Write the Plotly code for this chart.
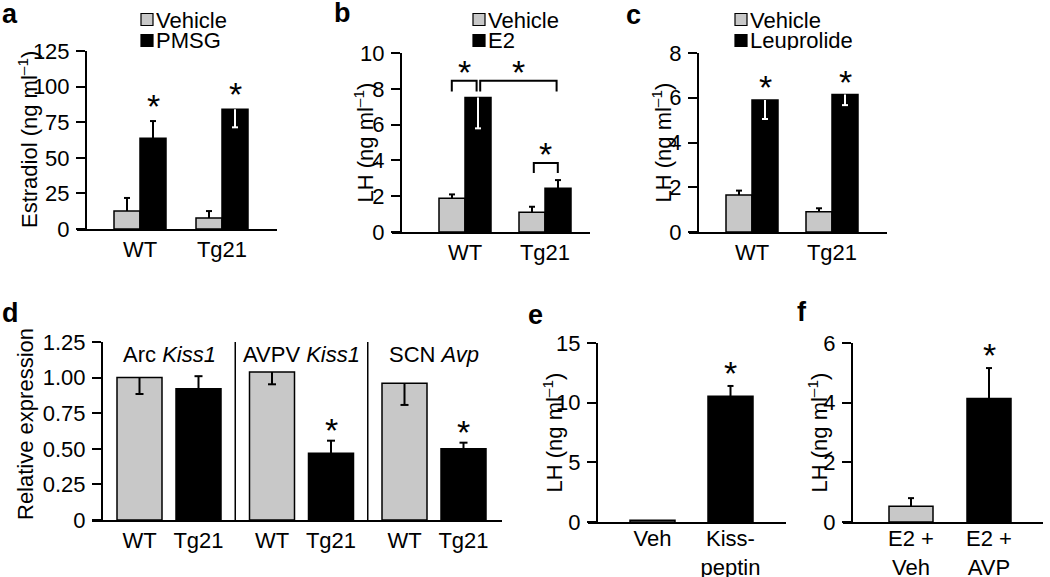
import plotly.graph_objects as go

W, H = 1050, 577
FONT = "Liberation Sans, Arial, Helvetica, sans-serif"
GREY = "#c8c8c8"
BLACK = "#000000"
FS = 22

# ---------------- data ----------------
# a
a_groups = ["WT", "Tg21"]
a_vehicle = [12.6, 7.7]
a_vehicle_err = [9.2, 4.9]
a_vehicle_dir = ["up", "up"]
a_pmsg = [63.7, 84.1]
a_pmsg_err = [12.1, 12.7]
a_pmsg_dir = ["up", "down"]
a_pmsg_star = [True, True]

# b
b_groups = ["WT", "Tg21"]
b_vehicle = [1.88, 1.10]
b_vehicle_err = [0.22, 0.31]
b_vehicle_dir = ["up", "up"]
b_e2 = [7.52, 2.44]
b_e2_err = [1.73, 0.46]
b_e2_dir = ["down", "up"]
# significance brackets: left x, right x (group units), top, leg bottom
b_brackets_x0 = [-0.165, 0.19, 0.86]
b_brackets_x1 = [0.145, 1.145, 1.16]
b_brackets_top = [8.45, 8.45, 3.85]
b_brackets_leg = [7.85, 7.85, 3.3]

# c
c_groups = ["WT", "Tg21"]
c_vehicle = [1.65, 0.91]
c_vehicle_err = [0.2, 0.15]
c_vehicle_dir = ["up", "up"]
c_leup = [5.9, 6.14]
c_leup_err = [0.85, 0.47]
c_leup_dir = ["down", "down"]
c_leup_star = [True, True]

# d
d_regions = ["Arc <i>Kiss1</i>", "AVPV <i>Kiss1</i>", "SCN <i>Avp</i>"]
d_wt = [1.00, 1.04, 0.96]
d_wt_err = [0.115, 0.087, 0.152]
d_wt_dir = ["down", "down", "down"]
d_tg = [0.922, 0.468, 0.50]
d_tg_err = [0.088, 0.089, 0.043]
d_tg_dir = ["up", "up", "up"]
d_tg_star = [False, True, True]

# e
e_labels = ["Veh", "Kiss-<br>peptin"]
e_vals = [0.15, 10.53]
e_err = [0.0, 0.87]
e_colors = [GREY, BLACK]
e_star = [False, True]

# f
f_labels = ["E2 +<br>Veh", "E2 +<br>AVP"]
f_vals = [0.53, 4.14]
f_err = [0.27, 1.02]
f_colors = [GREY, BLACK]
f_star = [False, True]

# ---------------- layout geometry (pixels) ----------------
def fx(px):
    return px / W


def fy(py):
    return 1 - py / H


panels = {
    "a": dict(n=1, xdom=(77, 277), yax=86, ydom=(51, 229), c0=140, unit=82,
              yr=(0, 125), ytv=[0, 25, 50, 75, 100, 125], ytt=["0", "25", "50", "75", "100", "125"],
              title="Estradiol (ng ml<sup>–1</sup>)", tx=28, xso=0),
    "b": dict(n=2, xdom=(392, 590), yax=401, ydom=(53, 232), c0=465, unit=80,
              yr=(0, 10), ytv=[0, 2, 4, 6, 8, 10], ytt=["0", "2", "4", "6", "8", "10"],
              title="LH (ng ml<sup>–1</sup>)", tx=363, xso=0),
    "c": dict(n=3, xdom=(689, 887), yax=698, ydom=(53, 232), c0=752, unit=80,
              yr=(0, 8), ytv=[0, 2, 4, 6, 8], ytt=["0", "2", "4", "6", "8"],
              title="LH (ng ml<sup>–1</sup>)", tx=661, xso=0),
    "d": dict(n=4, xdom=(92, 502), yax=102, ydom=(342, 520), c0=169, unit=132.5,
              yr=(0, 1.25), ytv=[0, 0.25, 0.5, 0.75, 1.0, 1.25],
              ytt=["0", "0.25", "0.50", "0.75", "1.00", "1.25"],
              title="Relative expression", tx=25, ty=424, xso=0),
    "e": dict(n=5, xdom=(588, 786), yax=597, ydom=(343, 522), c0=652.5, unit=78,
              yr=(0, 15), ytv=[0, 5, 10, 15], ytt=["0", "5", "10", "15"],
              title="LH (ng ml<sup>–1</sup>)", tx=552, xso=-4),
    "f": dict(n=6, xdom=(843, 1043), yax=852, ydom=(343, 522), c0=911, unit=78,
              yr=(0, 6), ytv=[0, 2, 4, 6], ytt=["0", "2", "4", "6"],
              title="LH (ng ml<sup>–1</sup>)", tx=817, xso=-4),
}

fig = go.Figure()
annotations = []
shapes = []


def axn(p):
    s = "" if p["n"] == 1 else str(p["n"])
    return "x" + s, "y" + s


def add_bars(p, xs, vals, colors, width_px):
    xa, ya = axn(p)
    fig.add_trace(go.Bar(
        x=xs, y=vals, width=width_px / p["unit"],
        marker=dict(color=colors, line=dict(color=BLACK, width=1.5)),
        xaxis=xa, yaxis=ya, showlegend=False, hoverinfo="skip"))


def add_errors(p, xs, vals, errs, dirs, down_colors, cap_px=3):
    xa, ya = axn(p)
    cw = cap_px / p["unit"]
    groups = {}
    for x, v, e, d, dc in zip(xs, vals, errs, dirs, down_colors):
        if e <= 0:
            continue
        end = v + e if d == "up" else v - e
        col = BLACK if d == "up" else dc
        gx, gy = groups.setdefault(col, ([], []))
        gx += [x, x, None, x - cw, x + cw, None]
        gy += [v, end, None, end, end, None]
    for col, (gx, gy) in groups.items():
        fig.add_trace(go.Scatter(x=gx, y=gy, mode="lines",
                                 line=dict(color=col, width=2),
                                 xaxis=xa, yaxis=ya, showlegend=False, hoverinfo="skip"))


def add_stars(p, xs, vals, errs, dirs, flags, shift=13):
    xa, ya = axn(p)
    for x, v, e, d, f in zip(xs, vals, errs, dirs, flags):
        if not f:
            continue
        top = v + e if d == "up" else v
        annotations.append(dict(x=x, y=top, xref=xa, yref=ya, text="*", showarrow=False,
                                yanchor="middle", yshift=shift,
                                font=dict(size=34, family=FONT, color=BLACK)))


def grouped(p, n_groups, bw_px):
    hw = bw_px / 2 / p["unit"]
    left = [g - hw for g in range(n_groups)]
    right = [g + hw for g in range(n_groups)]
    return left, right


# ---- a
p = panels["a"]
L, R = grouped(p, 2, 26)
add_bars(p, L, a_vehicle, [GREY] * 2, 26)
add_bars(p, R, a_pmsg, [BLACK] * 2, 26)
add_errors(p, L, a_vehicle, a_vehicle_err, a_vehicle_dir, [BLACK] * 2)
add_errors(p, R, a_pmsg, a_pmsg_err, a_pmsg_dir, ["white"] * 2)
add_stars(p, R, a_pmsg, a_pmsg_err, a_pmsg_dir, a_pmsg_star, shift=15)
p["xtv"], p["xtt"] = list(range(2)), a_groups

# ---- b
p = panels["b"]
L, R = grouped(p, 2, 26)
add_bars(p, L, b_vehicle, [GREY] * 2, 26)
add_bars(p, R, b_e2, [BLACK] * 2, 26)
add_errors(p, L, b_vehicle, b_vehicle_err, b_vehicle_dir, [BLACK] * 2)
add_errors(p, R, b_e2, b_e2_err, b_e2_dir, ["white"] * 2)
bx, by = [], []
for x0, x1, t, lg in zip(b_brackets_x0, b_brackets_x1, b_brackets_top, b_brackets_leg):
    bx += [x0, x0, x1, x1, None]
    by += [lg, t, t, lg, None]
    annotations.append(dict(x=(x0 + x1) / 2, y=t, xref="x2", yref="y2", text="*", showarrow=False,
                            yanchor="middle", yshift=9,
                            font=dict(size=34, family=FONT, color=BLACK)))
fig.add_trace(go.Scatter(x=bx, y=by, mode="lines", line=dict(color=BLACK, width=2),
                         xaxis="x2", yaxis="y2", showlegend=False, hoverinfo="skip"))
p["xtv"], p["xtt"] = list(range(2)), b_groups

# ---- c
p = panels["c"]
L, R = grouped(p, 2, 26)
add_bars(p, L, c_vehicle, [GREY] * 2, 26)
add_bars(p, R, c_leup, [BLACK] * 2, 26)
add_errors(p, L, c_vehicle, c_vehicle_err, c_vehicle_dir, [BLACK] * 2)
add_errors(p, R, c_leup, c_leup_err, c_leup_dir, ["white"] * 2)
add_stars(p, R, c_leup, c_leup_err, c_leup_dir, c_leup_star)
p["xtv"], p["xtt"] = list(range(2)), c_groups

# ---- d
p = panels["d"]
off = 29.5 / p["unit"]
L = [g - off for g in range(3)]
R = [g + off for g in range(3)]
add_bars(p, L, d_wt, [GREY] * 3, 45)
add_bars(p, R, d_tg, [BLACK] * 3, 45)
add_errors(p, L, d_wt, d_wt_err, d_wt_dir, [BLACK] * 3, cap_px=4)
add_errors(p, R, d_tg, d_tg_err, d_tg_dir, ["white"] * 3, cap_px=4)
add_stars(p, R, d_tg, d_tg_err, d_tg_dir, d_tg_star, shift=11)
dvx, dvy = [], []
for g in range(len(d_regions) - 1):
    dvx += [g + 0.5, g + 0.5, None]
    dvy += [0, p["yr"][1], None]
fig.add_trace(go.Scatter(x=dvx, y=dvy, mode="lines", line=dict(color=BLACK, width=1.5),
                         xaxis="x4", yaxis="y4", showlegend=False, hoverinfo="skip"))
for g, lab in enumerate(d_regions):
    annotations.append(dict(x=g, y=1.16, xref="x4", yref="y4", text=lab, showarrow=False,
                            font=dict(size=FS, family=FONT, color=BLACK)))
p["xtv"] = L + R
p["xtt"] = ["WT"] * 3 + ["Tg21"] * 3

# ---- e
p = panels["e"]
xs = list(range(2))
add_bars(p, xs, e_vals, e_colors, 45)
add_errors(p, xs, e_vals, e_err, ["up", "up"], [BLACK] * 2, cap_px=3)
add_stars(p, xs, e_vals, e_err, ["up", "up"], e_star)
p["xtv"], p["xtt"] = xs, e_labels

# ---- f
p = panels["f"]
xs = list(range(2))
add_bars(p, xs, f_vals, f_colors, 44)
add_errors(p, xs, f_vals, f_err, ["up", "up"], [BLACK] * 2, cap_px=3)
add_stars(p, xs, f_vals, f_err, ["up", "up"], f_star)
p["xtv"], p["xtt"] = xs, f_labels

# ---------------- axes ----------------
layout_axes = {}
for key, p in panels.items():
    s = "" if p["n"] == 1 else str(p["n"])
    x0, x1 = p["xdom"]
    y0, y1 = p["ydom"]
    rng = [(x0 - p["c0"]) / p["unit"], (x1 - p["c0"]) / p["unit"]]
    layout_axes["xaxis" + s] = dict(
        domain=[fx(x0), fx(x1)], range=rng, anchor="y" + s, automargin=False,
        showline=True, linewidth=2, linecolor=BLACK, ticks="",
        tickmode="array", tickvals=p["xtv"], ticktext=p["xtt"],
        showgrid=False, zeroline=False, fixedrange=True,
        tickfont=dict(size=FS, family=FONT, color=BLACK), ticklabelstandoff=p["xso"])
    layout_axes["yaxis" + s] = dict(
        domain=[fy(y1), fy(y0)], range=list(p["yr"]), anchor="free", position=fx(p["yax"]),
        automargin=False,
        showline=True, linewidth=2, linecolor=BLACK, ticks="outside", ticklen=9, tickwidth=2,
        tickcolor=BLACK, tickmode="array", tickvals=p["ytv"], ticktext=p["ytt"],
        showgrid=False, zeroline=False, fixedrange=True,
        tickfont=dict(size=FS, family=FONT, color=BLACK), ticklabelstandoff=2)
    ty = p.get("ty", (y0 + y1) / 2)
    annotations.append(dict(x=fx(p["tx"]), y=fy(ty), xref="paper", yref="paper",
                            text=p["title"], textangle=-90, showarrow=False,
                            xanchor="center", yanchor="middle",
                            font=dict(size=FS, family=FONT, color=BLACK)))

# panel letters
letters = [("a", 0, 14), ("b", 332, 13), ("c", 624, 15), ("d", 0, 313), ("e", 526, 315), ("f", 795, 312)]
for t, x, y in letters:
    annotations.append(dict(x=fx(x), y=fy(y), xref="paper", yref="paper", text="<b>%s</b>" % t,
                            showarrow=False, xanchor="left", yanchor="middle",
                            font=dict(size=27, family=FONT, color=BLACK)))

# legends (squares + labels)
legends = [
    (141, ["Vehicle", "PMSG"]),
    (473, ["Vehicle", "E2"]),
    (735, ["Vehicle", "Leuprolide"]),
]
rows_y = [19.5, 40.5]
for sx, labs in legends:
    for ry, lab, col in zip(rows_y, labs, [GREY, BLACK]):
        shapes.append(dict(type="rect", xref="paper", yref="paper",
                           x0=fx(sx), x1=fx(sx + 12), y0=fy(ry + 6), y1=fy(ry - 6),
                           fillcolor=col, line=dict(color=BLACK, width=1.2)))
        annotations.append(dict(x=fx(sx + 13), y=fy(ry), xref="paper", yref="paper", text=lab,
                                showarrow=False, xanchor="left", yanchor="middle", height=20,
                                font=dict(size=FS, family=FONT, color=BLACK)))

fig.update_layout(
    template="none",
    width=W, height=H, margin=dict(l=0, r=0, t=0, b=0, autoexpand=False),
    paper_bgcolor="white", plot_bgcolor="white",
    barmode="overlay", showlegend=False,
    font=dict(family=FONT, size=FS, color=BLACK),
    annotations=annotations, shapes=shapes,
    **layout_axes)

fig.write_html(
    "out.html",
    config={"displayModeBar": False},
    post_script="document.body.style.margin='0';document.body.style.overflow='hidden';",
)
